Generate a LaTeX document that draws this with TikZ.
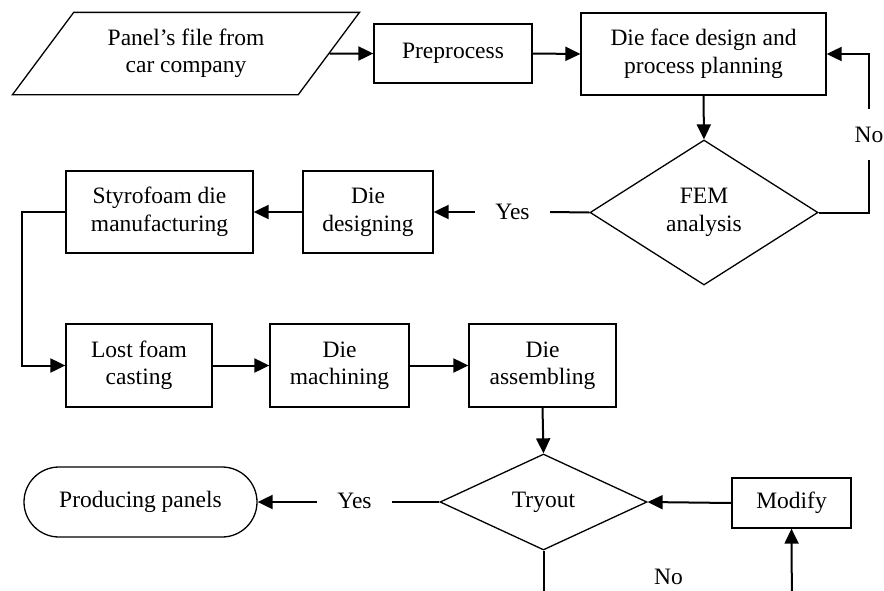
\documentclass[tikz,border=0pt]{standalone}
\usepackage{fontspec}
\setmainfont{Liberation Serif}
\usetikzlibrary{arrows.meta,shapes.geometric}
\tikzset{
  txt/.style={font=\fontsize{23.5}{27.5}\selectfont, align=center, inner sep=0pt},
  box/.style={txt, draw, line width=1.3pt, rectangle},
  dia/.style={txt, draw, line width=1.3pt, diamond},
  lbl/.style={txt},
  conn/.style={line width=2pt},
  arr/.style={conn, -{Triangle[length=15pt,width=14pt]}}
}
\begin{document}
\begin{tikzpicture}[x=1pt,y=-1pt]
\useasboundingbox (0,0) rectangle (884,590);
\clip (0,0) rectangle (884,590);
\fill[white] (0,0) rectangle (884,590);
% nodes
\node[txt, draw, line width=1.3pt, trapezium, trapezium left angle=49, trapezium right angle=131,
      trapezium stretches=true, minimum width=348pt, minimum height=82.3pt] (par) at (186,53.5) {Panel’s file from\\car company};
\node[box, minimum width=158pt, minimum height=59pt] (pre) at (453,53.5) {Preprocess};
\node[box, minimum width=245pt, minimum height=82pt] (dface) at (703.5,54) {Die face design and\\process planning};
\node[dia, minimum width=228pt, minimum height=145pt, shape aspect=1.57] (fem) at (704,212.5) {FEM\\analysis};
\node[box, minimum width=130pt, minimum height=82pt] (ddes) at (368,212) {Die\\designing};
\node[box, minimum width=187pt, minimum height=82pt] (styro) at (159.5,212) {Styrofoam die\\manufacturing};
\node[box, minimum width=146pt, minimum height=83pt] (lost) at (139,365.5) {Lost foam\\casting};
\node[box, minimum width=139pt, minimum height=83pt] (mach) at (339.5,365.5) {Die\\machining};
\node[box, minimum width=147pt, minimum height=83pt] (assem) at (542.5,365.5) {Die\\assembling};
\node[dia, minimum width=207pt, minimum height=96pt, shape aspect=2.16] (try) at (543.5,502) {Tryout};
\node[box, rounded corners=35pt, minimum width=233pt, minimum height=70pt] (prod) at (140.5,502) {Producing panels};
\node[box, minimum width=119pt, minimum height=50pt] (mod) at (791.5,503) {Modify};
% labels
\node[lbl, minimum height=51pt] (noA) at (869,134.5) {No};
\node[lbl, minimum width=75pt] (yesA) at (512.5,212) {Yes};
\node[lbl, minimum width=75pt] (yesB) at (354.5,501) {Yes};
\node[lbl] (noB) at (668.5,577) {No};
\coordinate (cB) at (543.5,620);
\coordinate (cC) at (792,620);
% connectors
\draw[arr] (par.east) -- (pre.west);
\draw[arr] (pre.east) -- (dface.west);
\draw[arr] (dface.south) -- (fem.north);
\draw[conn] (fem.east) -| (noA.south);
\draw[arr] (noA.north) |- (dface.east);
\draw[conn] (fem.west) -- (yesA.east);
\draw[arr] (yesA.west) -- (ddes.east);
\draw[arr] (ddes.west) -- (styro.east);
\draw[arr] (styro.west) -- ++(-43,0) |- (lost.west);
\draw[arr] (lost.east) -- (mach.west);
\draw[arr] (mach.east) -- (assem.west);
\draw[arr] (assem.south) -- (try.north);
\draw[conn] (try.west) -- (yesB.east |- try.west);
\draw[arr] (yesB.west |- try.west) -- (prod.east);
\draw[arr] (mod.west) -- (try.east);
\draw[conn] (try.south) -- (cB) -- (cC);
\draw[arr] (cC) -- (mod.south);
\end{tikzpicture}
\end{document}
